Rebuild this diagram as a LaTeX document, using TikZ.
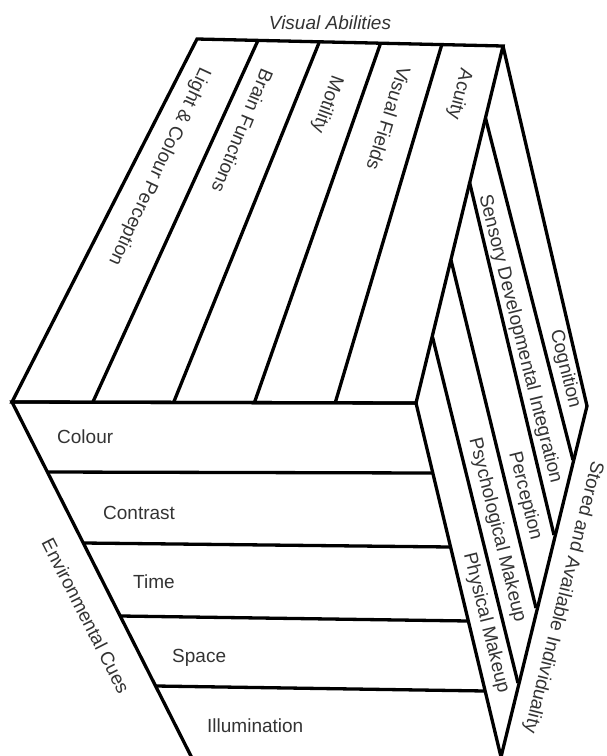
\documentclass[tikz,border=0pt]{standalone}
\usepackage{fontspec}
\setmainfont{Liberation Sans}
\definecolor{txt}{HTML}{333333}
\begin{document}
\begin{tikzpicture}[x=1pt,y=-1pt,
  edge/.style={draw=black,line width=3.3pt,line join=miter},
  lab/.style={font=\fontsize{19}{22}\selectfont,text=txt,inner sep=0pt},
  ttl/.style={font=\fontsize{19}{22}\selectfont\itshape,text=txt,inner sep=0pt}]
\useasboundingbox (0,0) rectangle (606,756);
% corners
\coordinate (A) at (197,39);
\coordinate (B) at (503,46);
\coordinate (C) at (12,402);
\coordinate (D) at (416,403);
\coordinate (R) at (587,406);
\coordinate (Bot) at (501,757);
\coordinate (BL) at (195,764);
% top face dividers
\coordinate (t1) at (258,40.4);  \coordinate (b1) at (92.8,402.2);
\coordinate (t2) at (319.4,41.8);\coordinate (b2) at (173.6,402.4);
\coordinate (t3) at (380.6,43.2);\coordinate (b3) at (254.4,402.6);
\coordinate (t4) at (441.8,44.6);\coordinate (b4) at (335.2,402.8);
% front face lines
\coordinate (l1) at (47.5,472);  \coordinate (r1) at (432.8,473);
\coordinate (l2) at (83.5,543);  \coordinate (r2) at (450.6,547);
\coordinate (l3) at (120.5,616); \coordinate (r3) at (468.3,621);
\coordinate (l4) at (156,686);   \coordinate (r4) at (485.2,691);
% right face dividers
\coordinate (s1) at (485.5,118); \coordinate (e1) at (573,460);
\coordinate (s2) at (469.5,182); \coordinate (e2) at (554,535);
\coordinate (s3) at (451,260);   \coordinate (e3) at (536,608);
\coordinate (s4) at (432.5,337); \coordinate (e4) at (518,683);

% top face
\draw[edge] (A) -- (B) -- (D) -- (C) -- cycle;
\foreach \i in {1,2,3,4} \draw[edge] (t\i) -- (b\i);
% front face
\draw[edge] (BL) -- (C) -- (D) -- (Bot);
\foreach \i in {1,2,3,4} \draw[edge] (l\i) -- (r\i);
% right face
\draw[edge] (B) -- (R) -- (Bot);
\foreach \i in {1,2,3,4} \draw[edge] (s\i) -- (e\i);

% labels
\node[ttl] (va) at (330,23) {Visual Abilities};
\node[lab,rotate=-115,anchor=west] (lc) at (205,68) {Light \& Colour Perception};
\node[lab,rotate=-112.5,anchor=west] (bf) at (268,70) {Brain Functions};
\node[lab,rotate=-110,anchor=west] (mo) at (337,76) {Motility};
\node[lab,rotate=-107.5,anchor=west] (vf) at (405,67) {Visual Fields};
\node[lab,rotate=-104.5,anchor=west] (ac) at (466,69) {Acuity};

\node[lab,anchor=base west] (co) at (57,443) {Colour};
\node[lab,anchor=base west] (ct) at (103,519) {Contrast};
\node[lab,anchor=base west] (ti) at (133,588) {Time};
\node[lab,anchor=base west] (sp) at (172,662) {Space};
\node[lab,anchor=base west] (il) at (207,732) {Illumination};

\node[lab,rotate=-76] (cg) at (565,369) {Cognition};
\node[lab,rotate=-76] (sd) at (520,339) {Sensory Developmental Integration};
\node[lab,rotate=-76] (pe) at (525,496) {Perception};
\node[lab,rotate=-76] (ps) at (497,530) {Psychological Makeup};
\node[lab,rotate=-76] (ph) at (486,623) {Physical Makeup};

\node[lab,rotate=-104] (st) at (563,597) {Stored and Available Individuality};
\node[lab,rotate=-63] (en) at (86,616) {Environmental Cues};
\end{tikzpicture}
\end{document}
